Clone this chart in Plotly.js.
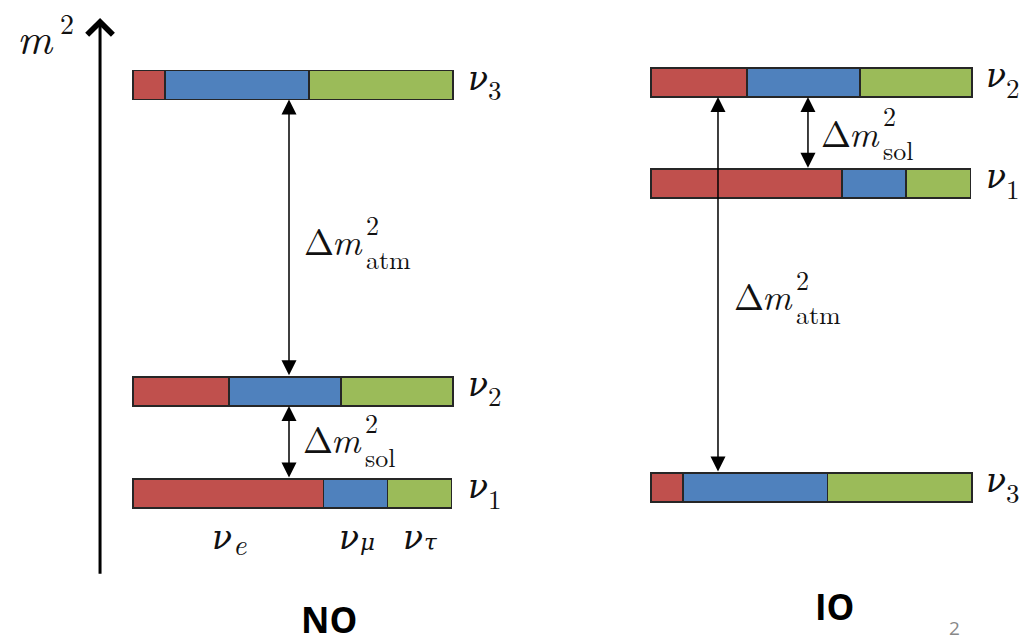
<!DOCTYPE html>
<html><head><meta charset="utf-8">
<script src="https://cdn.plot.ly/plotly-3.0.1.min.js"></script>
<style>html,body{margin:0;padding:0;background:#fff}#chart{width:1034px;height:643px}</style>
</head><body><div id="chart"></div>
<script>
// ---- data ----
const states = ['1', '2', '3'];            // mass eigenstates ν1, ν2, ν3
const flavours = ['e', 'μ', 'τ'];          // flavour content
const fracE   = [0.595, 0.30, 0.10];       // |U_e i|^2 share of bar length
const fracMu  = [0.200, 0.35, 0.45];
const fracTau = [0.200, 0.35, 0.45];
const levelsNO = [0, 1, 4];                // schematic m^2 level, normal ordering
const levelsIO = [3, 4, 0];                // schematic m^2 level, inverted ordering

// ---- style ----
const colours = ['#c0504d', '#4f81bd', '#9bbb59'];
const BAR_W = 0.285, HALF = BAR_W / 2;
const LM = 'Latin Modern Roman, DejaVu Serif, serif';
const GREEK = 'DejaVu Serif, serif';
const INK = '#111';
const W = 1034, H = 643;

function barTraces(levels, xa, ya) {
  return [fracE, fracMu, fracTau].map((f, i) => ({
    type: 'bar', orientation: 'h', x: f, y: levels, xaxis: xa, yaxis: ya,
    width: BAR_W, marker: {color: colours[i], line: {color: '#262626', width: 1.7}},
    hoverinfo: 'skip', showlegend: false
  }));
}

function dbl(xr, yr, x, y0, y1) {
  return {xref: xr, yref: yr, axref: xr, ayref: yr, x: x, y: y1, ax: x, ay: y0,
    text: '', showarrow: true, arrowside: 'end+start', arrowhead: 2, startarrowhead: 2,
    arrowsize: 2.0, startarrowsize: 2.0, arrowwidth: 1.5, arrowcolor: '#000',
    standoff: 0, startstandoff: 0};
}
function F(fam, size, italic) { return {family: fam, size: size, color: INK, style: italic ? 'italic' : 'normal'}; }
function P(px, py, text, font, extra) {
  return Object.assign({xref: 'paper', yref: 'paper', x: px / W, y: 1 - py / H, text: text,
    showarrow: false, xanchor: 'left', yanchor: 'middle', font: font}, extra || {});
}
// Δm with stacked superscript 2 and subscript label
function dm(left, cy, sub) {
  return [P(left, cy, 'Δ', F(LM, 36, false)),
          P(left + 28, cy, 'm', F(LM, 36, true)),
          P(left + 62, cy + 2, '2<br>' + sub, F(LM, 26, false), {align: 'left'})];
}
function nuLabels(levels, xr, yr, xpos) {
  const out = [];
  states.forEach((s, i) => {
    out.push({xref: xr, yref: yr, x: xpos, y: levels[i], text: 'ν', showarrow: false,
      xanchor: 'left', yanchor: 'middle', yshift: 7, font: F(GREEK, 33, true)});
    out.push({xref: xr, yref: yr, x: xpos, y: levels[i], text: s, showarrow: false,
      xanchor: 'left', yanchor: 'middle', xshift: 20, yshift: -4, font: F(LM, 27, false)});
  });
  return out;
}

const traces = [...barTraces(levelsNO, 'x', 'y'), ...barTraces(levelsIO, 'x2', 'y2')];

// flavour labels centred under the segments of the NO ν1 bar
const segs = [fracE[0], fracMu[0], fracTau[0]];
let acc = 0;
const flavLabels = [];
segs.forEach((w, i) => {
  const c = acc + w / 2; acc += w;
  flavLabels.push({xref: 'x', yref: 'y', x: c, y: levelsNO[0] - 0.44, text: 'ν', showarrow: false,
    xanchor: 'center', yanchor: 'middle', xshift: -6, yshift: 1, font: F(GREEK, 33, true)});
  flavLabels.push({xref: 'x', yref: 'y', x: c, y: levelsNO[0] - 0.44, text: flavours[i], showarrow: false,
    xanchor: 'left', yanchor: 'middle', xshift: 3, yshift: -4,
    font: i === 0 ? F(LM, 29, true) : F(GREEK, 23, true)});
});

const annotations = [
  // vertical m^2 axis arrow
  {xref: 'x', yref: 'y', axref: 'x', ayref: 'y', x: -0.103, y: 4.656, ax: -0.103, ay: -0.80,
   text: '', showarrow: true, arrowhead: 4, arrowsize: 1.65, arrowwidth: 3, arrowcolor: '#000', standoff: 0},
  P(15, 36, 'm', F(LM, 43, true)),
  P(58, 22, '2', F(LM, 28, false)),
  // NO arrows
  dbl('x', 'y', 0.4875, levelsNO[1] + HALF, levelsNO[2] - HALF),
  dbl('x', 'y', 0.4875, levelsNO[0] + HALF, levelsNO[1] - HALF),
  // IO arrows
  dbl('x2', 'y2', 0.489, levelsIO[0] + HALF, levelsIO[1] - HALF),
  dbl('x2', 'y2', 0.2087, levelsIO[2] + HALF, levelsIO[1] - HALF),
  ...dm(302, 239, 'atm'),
  ...dm(301, 437, 'sol'),
  ...dm(819, 131, 'sol'),
  ...dm(732, 294, 'atm'),
  ...nuLabels(levelsNO, 'x', 'y', 1.04),
  ...nuLabels(levelsIO, 'x2', 'y2', 1.037),
  ...flavLabels,
  P(329, 619, 'NO', {family: 'Open Sans', size: 35, weight: 'bold', color: '#000'}, {xanchor: 'center'}),
  P(834, 606, 'IO', {family: 'Open Sans', size: 35, weight: 'bold', color: '#000'}, {xanchor: 'center'}),
  P(954, 628, '2', {family: 'Open Sans', size: 19, color: '#888'}, {xanchor: 'center'})
];

const layout = {
  width: W, height: H, margin: {l: 0, r: 0, t: 0, b: 0},
  paper_bgcolor: '#fff', plot_bgcolor: 'rgba(0,0,0,0)', barmode: 'stack', showlegend: false,
  xaxis:  {domain: [0, 0.5], range: [-0.415625, 1.2], visible: false, fixedrange: true},
  yaxis:  {domain: [0, 1], range: [-1.4639, 4.8323], visible: false, fixedrange: true},
  xaxis2: {domain: [0.5, 1], range: [-0.41745, 1.19315], visible: false, anchor: 'y2', fixedrange: true},
  yaxis2: {domain: [0, 1], range: [-1.5358, 4.8148], visible: false, anchor: 'x2', fixedrange: true},
  annotations: annotations
};

Plotly.newPlot('chart', traces, layout, {staticPlot: true, displayModeBar: false});
</script></body></html>
